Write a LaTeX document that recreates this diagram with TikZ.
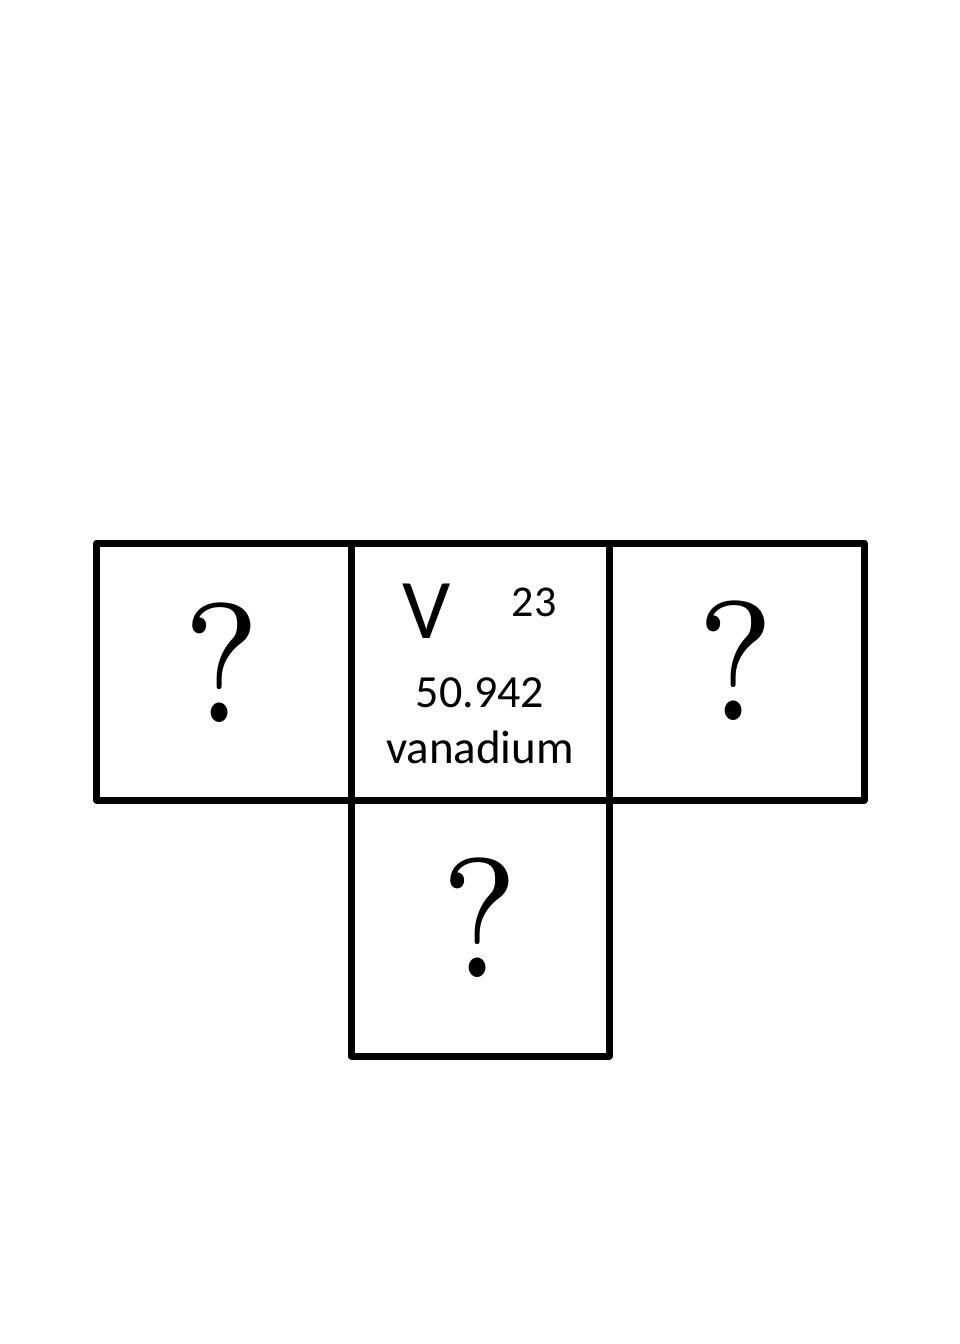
\documentclass[tikz,border=0pt]{standalone}
\usepackage{fontspec}
\usepackage{graphicx}
\newfontfamily\calib{Carlito}
\newfontfamily\lmq{lmroman7-regular.otf}
\newcommand{\narrowq}{\scalebox{0.86}[1]{?}}
\begin{document}
\begin{tikzpicture}[x=1pt,y=-1pt,
  cellline/.style={draw=black,line width=7pt,line join=round,line cap=round},
  qmark/.style={anchor=base,inner sep=0pt,font=\lmq\fontsize{170}{170}\selectfont},
  eltext/.style={anchor=base,inner sep=0pt}]
\useasboundingbox[fill=white] (0,0) rectangle (960,1344);
% cells
\draw[cellline] (96.5,543) rectangle (351,800);
\draw[cellline] (351,543) rectangle (609,800);
\draw[cellline] (609,543) rectangle (864,800);
\draw[cellline] (351,800) rectangle (609,1056);
% question marks
\node[qmark] (qL) at (222,722) {\narrowq};
\node[qmark] (qR) at (736,720) {\narrowq};
\node[qmark] (qB) at (480,977) {\narrowq};
% element
\node[eltext,font=\calib\fontsize{85}{85}\selectfont] (sym) at (427,638) {V};
\node[eltext,font=\calib\fontsize{44}{44}\selectfont] (num) at (534,616) {23};
\node[eltext,font=\calib\fontsize{46}{46}\selectfont] (mass) at (480,707) {50.942};
\node[eltext,font=\calib\fontsize{47}{47}\selectfont] (name) at (480,763) {vanadium};
\end{tikzpicture}
\end{document}
